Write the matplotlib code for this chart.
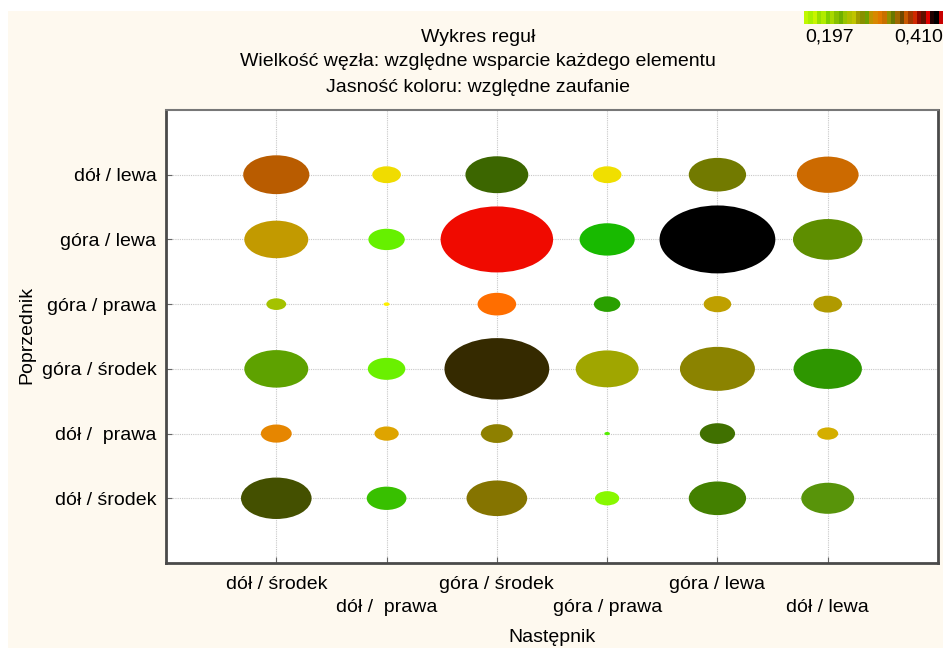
import numpy as np
import matplotlib
matplotlib.use("Agg")
import matplotlib.pyplot as plt
from matplotlib.patches import Ellipse, Rectangle
from matplotlib.colors import ListedColormap

plt.rcParams["font.family"] = ["Liberation Sans", "DejaVu Sans"]

# categories (same order on both axes, y from bottom to top)
x_labels = ["dół / środek", "dół /  prawa", "góra / środek", "góra / prawa", "góra / lewa", "dół / lewa"]
y_labels = ["dół / środek", "dół /  prawa", "góra / środek", "góra / prawa", "góra / lewa", "dół / lewa"]

# relative support -> node diameter (rows = antecedent, bottom to top)
support = [
    [0.64, 0.36, 0.55, 0.22, 0.52, 0.48],   # dół / środek
    [0.28, 0.22, 0.29, 0.05, 0.32, 0.19],   # dół /  prawa
    [0.58, 0.34, 0.95, 0.57, 0.68, 0.62],   # góra / środek
    [0.18, 0.055, 0.35, 0.24, 0.25, 0.26],  # góra / prawa
    [0.58, 0.33, 1.02, 0.50, 1.05, 0.63],   # góra / lewa
    [0.60, 0.26, 0.57, 0.26, 0.52, 0.56],   # dół / lewa
]

# colour (relative confidence)
colors = [
    ["#445000", "#38C000", "#857400", "#88F800", "#438000", "#58940A"],
    ["#E68600", "#DEA400", "#8E8000", "#55EE00", "#407000", "#D4AE00"],
    ["#5EA200", "#6AF000", "#352A00", "#A0A600", "#8B8300", "#2E9600"],
    ["#A4C200", "#FFF000", "#FF6E00", "#2AA000", "#BFA000", "#B09A00"],
    ["#C29A00", "#66F000", "#F00A00", "#18BA00", "#000000", "#5E8E00"],
    ["#B95C00", "#F0DC00", "#3C6600", "#F0DF00", "#727A00", "#CC6A00"],
]

scale_colors = ["#C0F800", "#A8F000", "#C8F400", "#98E000", "#B0EC00", "#80D000", "#A8D800",
                "#88C000", "#70B000", "#98C400", "#B0C000", "#C0C400", "#A09C00", "#889000",
                "#70A000", "#C09400", "#D88800", "#E07800", "#C87000", "#909000", "#687800",
                "#A06800", "#704800", "#C85800", "#A03800", "#D02800", "#900800", "#601000",
                "#E00000", "#200000", "#000000", "#C80000"]
scale_min, scale_max = "0,197", "0,410"

fig = plt.figure(figsize=(9.43, 6.48), dpi=100, facecolor="#FEF9EF")
fig.patches.append(Rectangle((0, 1 - 11 / 648), 1, 11 / 648, transform=fig.transFigure,
                             facecolor="white", edgecolor="none", zorder=0))
fig.patches.append(Rectangle((0, 0), 8 / 943, 1, transform=fig.transFigure,
                             facecolor="white", edgecolor="none", zorder=0))

ax = fig.add_axes([166 / 943, 1 - 563 / 648, 772 / 943, 453 / 648])
ax.set_facecolor("white")

for i in range(len(y_labels)):
    for j in range(len(x_labels)):
        d = support[i][j]
        ax.add_patch(Ellipse((j + 1, i + 1), d, d, facecolor=colors[i][j],
                             edgecolor="none", zorder=3))

ax.set_xlim(0, 7)
ax.set_ylim(0, 7)
ax.set_xticks(range(1, 7))
ax.set_yticks(range(1, 7))
ax.set_xticklabels(["" for _ in x_labels])
ax.set_yticklabels(y_labels, fontsize=14)
ax.grid(True, color="#C8C8C8", linestyle=(0, (1, 1)), linewidth=0.8, zorder=1)
ax.tick_params(axis="both", direction="in", length=4, color="#666666", pad=7)

for k, lab in enumerate(x_labels):
    off = 0 if k % 2 == 0 else -23
    ax.annotate(lab, xy=(k + 1, 0), xycoords="data", xytext=(0, -13 + off),
                textcoords="offset pixels", ha="center", va="top", fontsize=14)

ax.spines["top"].set_color("#777777")
ax.spines["top"].set_linewidth(1.5)
for s in ["left", "right", "bottom"]:
    ax.spines[s].set_color("#4A4A4A")
    ax.spines[s].set_linewidth(2.0)

fig.text(552 / 943, 1 - 637 / 648, "Następnik", ha="center", va="center", fontsize=14)
fig.text(27 / 943, 1 - 335 / 648, "Poprzednik", ha="center", va="center", rotation=90, fontsize=14)

fig.text(478 / 943, 1 - 37 / 648, "Wykres reguł", ha="center", va="center", fontsize=14)
fig.text(478 / 943, 1 - 62 / 648, "Wielkość węzła: względne wsparcie każdego elementu",
         ha="center", va="center", fontsize=14)
fig.text(478 / 943, 1 - 87 / 648, "Jasność koloru: względne zaufanie",
         ha="center", va="center", fontsize=14)

# colour scale in the corner
cax = fig.add_axes([804 / 943, 1 - 24 / 648, 139 / 943, 13 / 648])
cax.imshow(np.arange(len(scale_colors))[None, :], aspect="auto",
           cmap=ListedColormap(scale_colors), interpolation="nearest")
cax.axis("off")
fig.text(805 / 943, 1 - 37 / 648, scale_min, ha="left", va="center", fontsize=14)
fig.text(943 / 943, 1 - 37 / 648, scale_max, ha="right", va="center", fontsize=14)

plt.savefig("out.png", dpi=100, facecolor=fig.get_facecolor())
